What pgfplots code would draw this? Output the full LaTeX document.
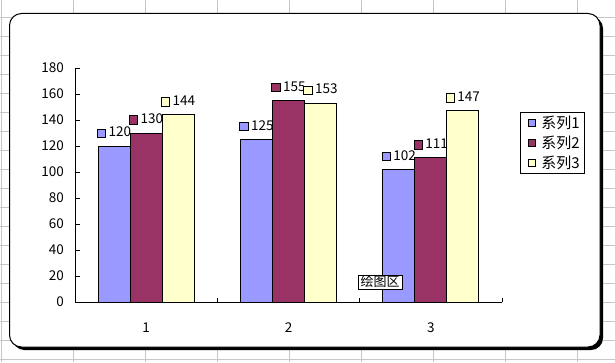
\documentclass[border=0pt]{standalone}
\usepackage{pgfplots}
\pgfplotsset{compat=1.18}
\usepackage{fontspec}
\setmainfont{Noto Sans CJK SC}
\definecolor{sA}{HTML}{9999FF}
\definecolor{sB}{HTML}{993366}
\definecolor{sC}{HTML}{FFFFCC}
\definecolor{gridc}{HTML}{C6C6C6}
\newcommand\keysq[1]{{\setlength{\fboxsep}{0pt}\setlength{\fboxrule}{0.8bp}\fcolorbox{black}{#1}{\rule{0pt}{7.5bp}\rule{7.5bp}{0pt}}}}
\newcommand\lblfont{\fontsize{13.5bp}{16bp}\selectfont}
\begin{document}
\begin{tikzpicture}[x=1bp,y=1bp]
\useasboundingbox (0,0) rectangle (615,362);
\fill[white] (0,0) rectangle (615,362);
\begin{scope}
\clip (0,0) rectangle (615,362);
\foreach \gx in {1.5,73.5,145.5,217.5,289.5,361.5,433.5,505.5,577.5}
  \draw[gridc, line width=1bp] (\gx,0) -- (\gx,362);
\foreach \k in {0,...,18}
  \draw[gridc, line width=1bp] (0,{344.5-19*\k}) -- (615,{344.5-19*\k});
\end{scope}
% chart area with shadow
\fill[black, rounded corners=12bp] (12.5,12) rectangle (603,345.5);
\draw[fill=white, line width=1bp, rounded corners=12bp] (9.5,15) rectangle (600,348.5);
\begin{axis}[
  at={(75bp,60bp)}, anchor=south west,
  scale only axis, width=427bp, height=234bp,
  xmin=0.5, xmax=3.5, ymin=0, ymax=180,
  axis line style={draw=none},
  xtick pos=bottom, ytick pos=left,
  tick style={draw=none},
  ytick={0,20,...,180},
  xtick={0.5,1.5,2.5,3.5},
  x tick label as interval,
  xticklabels={1,2,3},
  xticklabel style={font=\lblfont, anchor=north, inner sep=0pt, yshift=-16bp},
  yticklabel style={font=\lblfont, anchor=east, inner sep=0pt, xshift=-11bp},
  /pgf/number format/assume math mode=true,
  ybar=0pt, bar width=32bp,
  every node near coord/.append style={anchor=south, inner sep=0pt, yshift=8bp, font=\lblfont, text=black},
  legend style={at={(1,0.68)}, anchor=west, xshift=18bp, draw=black, line width=0.8bp,
    font=\fontsize{15bp}{18bp}\selectfont, row sep=2bp, inner xsep=3bp, inner ysep=1.5bp},
  mylegend/.style={legend image code/.code={\path[draw=none, fill=none] (0bp,-0.1bp) rectangle (16bp,0.1bp);\draw[##1, draw=black, line width=0.6bp] (5bp,-3.5bp) rectangle (12bp,3.5bp);}},
  after end axis/.code={
    \draw[line width=0.8bp, black] (rel axis cs:0,1) -- (rel axis cs:0,0) -- (rel axis cs:1,0);
    \foreach \v in {0,20,...,180} \draw[line width=0.8bp, black] (axis cs:0.5,\v) -- ++(5bp,0bp);
    \foreach \c in {1.5,2.5,3.5} \draw[line width=0.8bp, black] (axis cs:\c,0) -- ++(0bp,4.5bp);
  },
]
\addplot[fill=sA, draw=black, line width=0.8bp, mylegend,
  nodes near coords={\keysq{sA}\hspace{2.5bp}\pgfmathprintnumber{\pgfplotspointmeta}}]
  coordinates {(1,120) (2,125) (3,102)};
\addplot[fill=sB, draw=black, line width=0.8bp, mylegend,
  nodes near coords={\keysq{sB}\hspace{2.5bp}\pgfmathprintnumber{\pgfplotspointmeta}}]
  coordinates {(1,130) (2,155) (3,111)};
\addplot[fill=sC, draw=black, line width=0.8bp, mylegend,
  nodes near coords={\keysq{sC}\hspace{2.5bp}\pgfmathprintnumber{\pgfplotspointmeta}}]
  coordinates {(1,144) (2,153) (3,147)};
\legend{系列1,系列2,系列3}
\end{axis}
\node[draw=black, fill=white, line width=0.6bp, inner xsep=2.5bp, inner ysep=1bp,
  font=\fontsize{13bp}{15bp}\selectfont] at (380,80) {绘图区};
\end{tikzpicture}
\end{document}
